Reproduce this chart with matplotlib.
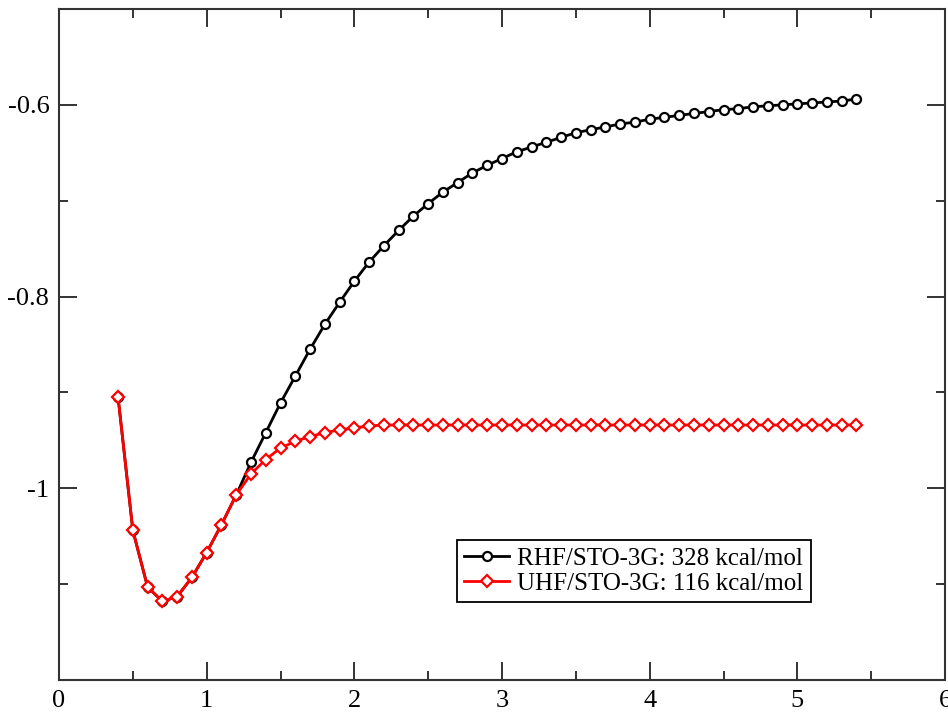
import matplotlib
matplotlib.use('Agg')
import matplotlib.pyplot as plt
from matplotlib.ticker import FixedLocator, FixedFormatter, MultipleLocator

plt.rcParams['font.family'] = ['Liberation Serif', 'DejaVu Serif']
plt.rcParams['axes.unicode_minus'] = False

# bond length (angstrom) and energies (hartree)
r = [0.4, 0.5, 0.6, 0.7, 0.8, 0.9, 1.0, 1.1, 1.2, 1.3, 1.4, 1.5, 1.6, 1.7,
     1.8, 1.9, 2.0, 2.1, 2.2, 2.3, 2.4, 2.5, 2.6, 2.7, 2.8, 2.9, 3.0, 3.1,
     3.2, 3.3, 3.4, 3.5, 3.6, 3.7, 3.8, 3.9, 4.0, 4.1, 4.2, 4.3, 4.4, 4.5,
     4.6, 4.7, 4.8, 4.9, 5.0, 5.1, 5.2, 5.3, 5.4]

rhf = [-0.905, -1.044, -1.103, -1.118, -1.113, -1.093, -1.067, -1.038, -1.007,
       -0.973, -0.942, -0.911, -0.883, -0.855, -0.829, -0.806, -0.784, -0.764,
       -0.747, -0.731, -0.716, -0.703, -0.691, -0.681, -0.671, -0.663, -0.656,
       -0.649, -0.644, -0.639, -0.634, -0.629, -0.626, -0.623, -0.620, -0.618,
       -0.615, -0.613, -0.611, -0.609, -0.607, -0.605, -0.604, -0.602, -0.601,
       -0.600, -0.599, -0.598, -0.597, -0.596, -0.594]

uhf = [-0.905, -1.044, -1.103, -1.118, -1.113, -1.093, -1.067, -1.038, -1.007,
       -0.985, -0.970, -0.958, -0.951, -0.946, -0.942, -0.939, -0.937, -0.935,
       -0.934, -0.934, -0.934, -0.934, -0.934, -0.934, -0.934, -0.934, -0.934,
       -0.934, -0.934, -0.934, -0.934, -0.934, -0.934, -0.934, -0.934, -0.934,
       -0.934, -0.934, -0.934, -0.934, -0.934, -0.934, -0.934, -0.934, -0.934,
       -0.934, -0.934, -0.934, -0.934, -0.934, -0.934]

labels = ['RHF/STO-3G: 328 kcal/mol', 'UHF/STO-3G: 116 kcal/mol']
yticks = [-1.0, -0.8, -0.6]
ytick_labels = ['-1', '-0.8', '-0.6']

fig = plt.figure(figsize=(9.48, 7.12), dpi=100)
ax = fig.add_axes([59 / 948, 32 / 712, 886 / 948, 671 / 712])

ax.plot(r, rhf, color='black', lw=2.0, marker='o', ms=6.5, mfc='white',
        mec='black', mew=1.6, label=labels[0])
ax.plot(r, uhf, color='red', lw=2.0, marker='D', ms=6.5, mfc='white',
        mec='red', mew=1.6, label=labels[1])

ax.set_xlim(0, 6)
ax.set_ylim(-1.2, -0.5)
ax.xaxis.set_major_locator(MultipleLocator(1))
ax.xaxis.set_minor_locator(MultipleLocator(0.5))
ax.yaxis.set_major_locator(FixedLocator(yticks))
ax.yaxis.set_major_formatter(FixedFormatter(ytick_labels))
ax.yaxis.set_minor_locator(MultipleLocator(0.1))

ax.tick_params(which='both', direction='in', top=True, right=True,
               width=1.4, color='#333333', labelsize=19)
ax.tick_params(which='major', length=13, pad=7)
ax.tick_params(which='minor', length=6.5)
for s in ax.spines.values():
    s.set_linewidth(1.5)
    s.set_color('#333333')

leg = ax.legend(loc='lower left', bbox_to_anchor=(0.449, 0.116),
                borderaxespad=0, fontsize=18, fancybox=False,
                edgecolor='black', framealpha=1, handlelength=1.8,
                handletextpad=0.3, borderpad=0.3, labelspacing=0.1)
leg.get_frame().set_linewidth(1.3)

fig.savefig('out.png', dpi=100)
